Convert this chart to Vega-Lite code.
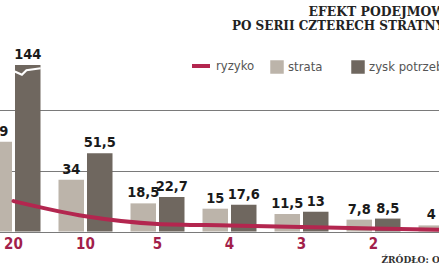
{
  "$schema": "https://vega.github.io/schema/vega-lite/v6.json",
  "autosize": "none",
  "width": 504,
  "height": 166.5,
  "padding": {"left": -22.5, "top": 65, "right": 0, "bottom": 36.5},
  "background": "#ffffff",
  "title": {
    "text": "EFEKT PODEJMOWANEGO RYZYKA",
    "subtitle": "PO SERII CZTERECH STRATNYCH TRANSAKCJI",
    "anchor": "end",
    "align": "right",
    "frame": "group",
    "font": "DejaVu Serif",
    "fontSize": 12.4,
    "fontWeight": "bold",
    "color": "#222222",
    "subtitleFont": "DejaVu Serif",
    "subtitleFontSize": 12,
    "subtitleFontWeight": "bold",
    "subtitleColor": "#222222",
    "subtitlePadding": 3,
    "baseline": "top",
    "offset": 0,
    "dx": 75.5,
    "dy": -15
  },
  "data": {
    "values": [
      {"ryzyko": 20, "seria": "strata", "wartosc": 59},
      {"ryzyko": 20, "seria": "zysk potrzebny", "wartosc": 144},
      {"ryzyko": 10, "seria": "strata", "wartosc": 34},
      {"ryzyko": 10, "seria": "zysk potrzebny", "wartosc": 51.5},
      {"ryzyko": 5, "seria": "strata", "wartosc": 18.5},
      {"ryzyko": 5, "seria": "zysk potrzebny", "wartosc": 22.7},
      {"ryzyko": 4, "seria": "strata", "wartosc": 15},
      {"ryzyko": 4, "seria": "zysk potrzebny", "wartosc": 17.6},
      {"ryzyko": 3, "seria": "strata", "wartosc": 11.5},
      {"ryzyko": 3, "seria": "zysk potrzebny", "wartosc": 13},
      {"ryzyko": 2, "seria": "strata", "wartosc": 7.8},
      {"ryzyko": 2, "seria": "zysk potrzebny", "wartosc": 8.5},
      {"ryzyko": 1, "seria": "strata", "wartosc": 4},
      {"ryzyko": 1, "seria": "zysk potrzebny", "wartosc": 4.2}
    ]
  },
  "encoding": {
    "x": {
      "field": "ryzyko",
      "type": "ordinal",
      "sort": "descending",
      "scale": {"paddingInner": 0.25, "paddingOuter": 0.125},
      "axis": {
        "title": "ŹRÓDŁO: OPRACOWANIE WŁASNE",
        "titleFont": "DejaVu Serif",
        "titleFontSize": 9,
        "titleFontWeight": "bold",
        "titleColor": "#333333",
        "titleAnchor": "start",
        "titleAlign": "left",
        "titleBaseline": "middle",
        "titleX": 403.5,
        "titleY": 28,
        "labelAngle": 0,
        "labelFont": "DejaVu Sans Condensed",
        "labelFontSize": 15,
        "labelFontWeight": "bold",
        "labelColor": "#a21f4b",
        "labelPadding": 5,
        "domain": false,
        "ticks": false,
        "grid": false
      }
    }
  },
  "layer": [
    {
      "mark": {"type": "bar"},
      "encoding": {
        "xOffset": {"field": "seria", "type": "nominal", "scale": {"paddingInner": 0.105}},
        "y": {
          "field": "wartosc",
          "type": "quantitative",
          "scale": {"domain": [0, 109.5], "clamp": true, "nice": false, "zero": true},
          "axis": {
            "values": [0, 20, 40, 60, 80, 100],
            "grid": true,
            "gridColor": "#7a7a7a",
            "gridWidth": 1,
            "labels": false,
            "ticks": false,
            "domain": false,
            "title": null
          }
        },
        "color": {
          "field": "seria",
          "type": "nominal",
          "scale": {
            "domain": ["strata", "zysk potrzebny"],
            "range": ["#bcb4aa", "#6f675f"]
          },
          "legend": {
            "title": null,
            "orient": "none",
            "direction": "horizontal",
            "legendX": 292.5,
            "legendY": -5,
            "padding": 0,
            "columnPadding": 28,
            "labelFont": "DejaVu Sans Condensed",
            "labelFontSize": 13,
            "labelColor": "#555555",
            "labelOffset": 4,
            "symbolType": "square",
            "symbolSize": 182,
            "symbolStrokeWidth": 0,
            "symbolOpacity": 1
          }
        }
      }
    },
    {
      "transform": [{"filter": "datum.wartosc > 109.5"}],
      "mark": {
        "type": "point",
        "shape": "M-1,0.5L-0.45,0.75L-0.1,0.4L1,0.25",
        "size": 676,
        "filled": false,
        "stroke": "#ffffff",
        "strokeWidth": 2.2,
        "opacity": 1
      },
      "encoding": {
        "xOffset": {"field": "seria", "type": "nominal"},
        "y": {"field": "wartosc", "type": "quantitative"}
      }
    },
    {
      "transform": [{"filter": "datum.seria === 'strata'"}],
      "mark": {"type": "line", "interpolate": "monotone", "strokeWidth": 4, "strokeCap": "round"},
      "encoding": {
        "y": {"field": "ryzyko", "type": "quantitative"},
        "stroke": {
          "datum": "ryzyko",
          "scale": {"domain": ["ryzyko"], "range": ["#b3264f"]},
          "legend": {
            "title": null,
            "orient": "none",
            "legendX": 212.5,
            "legendY": -10,
            "padding": 0,
            "labelFont": "DejaVu Sans Condensed",
            "labelFontSize": 13,
            "labelColor": "#555555",
            "labelOffset": 4,
            "symbolType": "stroke",
            "symbolSize": 324,
            "symbolStrokeWidth": 4,
            "symbolStrokeColor": "#b3264f"
          }
        }
      }
    },
    {
      "mark": {
        "type": "text",
        "baseline": "bottom",
        "dy": -3,
        "font": "DejaVu Sans Condensed",
        "fontSize": 14.5,
        "fontWeight": "bold",
        "color": "#1a1a1a",
        "clip": false,
        "text": {"expr": "replace(format(datum.wartosc, '~g'), '.', ',')"}
      },
      "encoding": {
        "xOffset": {"field": "seria", "type": "nominal"},
        "y": {"field": "wartosc", "type": "quantitative"}
      }
    }
  ],
  "resolve": {"scale": {"color": "independent", "stroke": "independent"}},
  "config": {
    "view": {"stroke": null}
  }
}
